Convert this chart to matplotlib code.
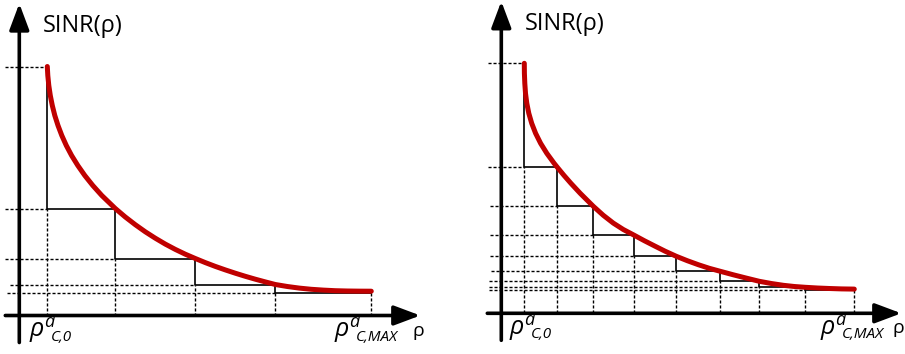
import matplotlib
matplotlib.use("Agg")
import matplotlib.pyplot as plt

plt.rcParams['font.family'] = ['Open Sans', 'DejaVu Sans']
NARROW = ['Liberation Sans Narrow', 'Open Sans', 'DejaVu Sans']

# left panel: coarse quantisation (4 steps)
left_curve_x = [28, 28.5, 29.5, 31, 33, 35.5, 38.7, 42.5, 47, 52.3, 58.5, 65.5,
                73.5, 82.5, 96, 106, 116, 126, 136, 146, 156, 166, 176, 186,
                196, 206, 216, 226, 236, 246, 256, 268, 280, 292, 304, 316,
                328, 340, 352]
left_curve_y = [249, 240, 230, 220, 210, 200, 190, 180, 170, 160, 150, 140,
                130, 120, 107, 98.5, 90.8, 83.7, 77.3, 71.4, 66.1, 61.3, 57,
                52.9, 49.1, 45.6, 42.3, 39.2, 36.3, 33.6, 31, 29, 27.4, 26.2,
                25.4, 24.8, 24.5, 24.35, 24.3]
left_step_x = [28, 96, 176, 256, 352]
left_step_y = [249, 107, 57, 31, 23]
left_guide_start = [-14, -14, -14, -9, -12]

# right panel: fine quantisation (8 steps)
right_curve_x = [23, 23.1, 23.5, 24.2, 25.5, 27.5, 30.4, 34.3, 39.3, 45.5,
                 52.8, 56, 62.6, 69.6, 78.9, 92, 102, 112, 122, 133, 143, 154,
                 164, 175, 186, 197, 208, 219, 232, 245, 258, 270, 282, 293,
                 304, 316, 328, 340, 353]
right_curve_y = [250, 240, 230, 220, 210, 200, 190, 180, 170, 160, 150, 146,
                 138, 130, 120, 107, 98, 90.2, 83.8, 78, 72.6, 67, 62,
                 57, 52.6, 48.6, 45, 42, 38.5, 35.2, 32, 29.8, 28, 26.8, 26,
                 25.3, 24.8, 24.4, 24.2]
right_step_x = [23, 56, 92, 133, 175, 219, 258, 304, 353]
right_step_y = [250, 146, 107, 78, 57, 42, 32, 26, 23.5]
right_guide_start = [-13, -13, -11, -11, -11, -10, -12, -12, -12]

y_label = 'SINR(ρ)'
x_label = 'ρ'
rho_sym = 'ρ'
rho_sup = 'a'
start_sub = 'C,0'
end_sub = 'C,MAX'

RED = '#C00000'
DOT = (0, (2.2, 1.4))


def rho_label(ax, x, y, sub):
    ax.text(x, y, rho_sym, fontsize=18, style='italic', family=NARROW,
            ha='left', va='baseline')
    ax.annotate(rho_sup, xy=(x, y), xytext=(10, 6.5), textcoords='offset points',
                fontsize=13, style='italic', family=NARROW, ha='left',
                va='baseline')
    ax.annotate(sub, xy=(x, y), xytext=(15, -3), textcoords='offset points',
                fontsize=11, style='italic', family=NARROW, ha='left',
                va='baseline')


def draw_panel(ax, cx, cy, sx, sy, gstart, xlim, ylim, ytop, xtip, lab_x):
    ax.set_xlim(*xlim)
    ax.set_ylim(*ylim)
    ax.axis('off')

    # axes with arrow heads
    arrow = dict(arrowstyle='-|>,head_length=16,head_width=6', lw=2.6,
                 color='black', mutation_scale=1, shrinkA=0, shrinkB=0)
    ax.annotate('', xy=(0, ytop), xytext=(0, -27), arrowprops=arrow)
    ax.annotate('', xy=(xtip, 0), xytext=(-14, 0), arrowprops=arrow)

    # dotted guides to the axes
    levels = [sy[0]] + sy[1:]
    ends = [sx[0]] + sx[:-1]
    ax.hlines(levels, gstart, ends, colors='black', linestyles=DOT, lw=1.0)
    ax.vlines(sx, 0, sy[1:] + [sy[-1]], colors='black', linestyles=DOT, lw=1.0)

    # staircase and curve
    ax.step(sx, sy, where='pre', color='black', lw=1.2, zorder=2)
    ax.plot(cx, cy, color=RED, lw=3.6, solid_capstyle='round',
            solid_joinstyle='round', zorder=3)

    ax.text(23.5, 283, y_label, fontsize=17, ha='left', va='baseline')
    ax.text(lab_x[2], -20, x_label, fontsize=14, ha='left', va='baseline')
    rho_label(ax, lab_x[0], -21, start_sub)
    rho_label(ax, lab_x[1], -21, end_sub)


fig = plt.figure(figsize=(9.05, 3.54), dpi=100)
ax1 = fig.add_axes([0, 0, 450 / 905, 1])
ax2 = fig.add_axes([455 / 905, 0, 450 / 905, 1])

draw_panel(ax1, left_curve_x, left_curve_y, left_step_x, left_step_y,
           left_guide_start, (-19.3, 430.7), (-38.5, 315.5), 312, 401,
           (10.7, 315.7, 392.7))
draw_panel(ax2, right_curve_x, right_curve_y, right_step_x, right_step_y,
           right_guide_start, (-46.3, 403.7), (-40.7, 313.3), 312, 400,
           (8.7, 319.7, 391.5))

fig.savefig('out.png', dpi=100)
